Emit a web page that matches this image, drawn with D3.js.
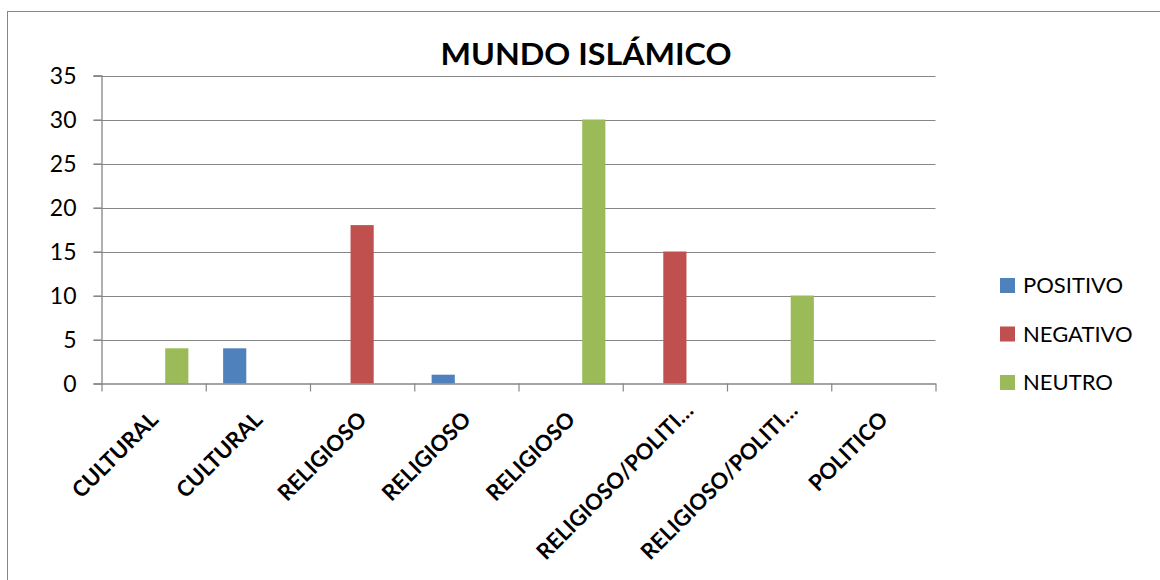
<!DOCTYPE html>
<html>
<head>
<meta charset="utf-8">
<script src="https://cdn.jsdelivr.net/npm/d3@7"></script>
<style>
  html, body { margin: 0; padding: 0; background: #fff; }
  svg { display: block; }
  text { font-family: Lato, "Open Sans", sans-serif; fill: #000; }
</style>
</head>
<body>
<svg id="chart" width="1160" height="580"></svg>
<script>
const title = "MUNDO ISLÁMICO";
const categories = ["CULTURAL", "CULTURAL", "RELIGIOSO", "RELIGIOSO", "RELIGIOSO", "RELIGIOSO/POLITI…", "RELIGIOSO/POLITI…", "POLITICO"];
const seriesNames = ["POSITIVO", "NEGATIVO", "NEUTRO"];
const positivo = [0, 4, 0, 1, 0, 0, 0, 0];
const negativo = [0, 0, 18, 0, 0, 15, 0, 0];
const neutro   = [4, 0, 0, 0, 30, 0, 10, 0];
const yTicks = [0, 5, 10, 15, 20, 25, 30, 35];
const colors = ["#4F81BD", "#C0504D", "#9BBB59"];

(function () {
const seriesValues = [positivo, negativo, neutro];
const svg = d3.select("#chart");
const grid = "#868686";

// outer chart border
svg.append("rect").attr("x", 7.5).attr("y", 11.5).attr("width", 1160).attr("height", 580)
  .attr("fill", "none").attr("stroke", grid).attr("stroke-width", 1);

const pLeft = 101.5, pRight = 935.5, pTop = 75.5, pBottom = 383.5;

const x0 = d3.scaleBand().domain(d3.range(categories.length)).range([pLeft, pRight]).paddingInner(0).paddingOuter(0);
const x1 = d3.scaleBand().domain(d3.range(seriesNames.length)).range([0, x0.bandwidth()]).paddingInner(0).paddingOuter(0.75);
const y = d3.scaleLinear().domain([0, 35]).range([pBottom, pTop]);

// gridlines
svg.append("g").selectAll("line").data(yTicks.filter(d => d > 0)).join("line")
  .attr("x1", pLeft - 8).attr("x2", pRight)
  .attr("y1", d => Math.round(y(d)) + 0.5).attr("y2", d => Math.round(y(d)) + 0.5)
  .attr("stroke", grid).attr("stroke-width", 1.2);

// bars
const barData = [];
categories.forEach((c, i) => seriesValues.forEach((vals, s) => {
  if (vals[i] > 0) barData.push({ i, s, v: vals[i] });
}));
svg.append("g").selectAll("rect").data(barData).join("rect")
  .attr("x", d => x0(d.i) + x1(d.s))
  .attr("width", x1.bandwidth())
  .attr("y", d => y(d.v))
  .attr("height", d => y(0) - y(d.v))
  .attr("fill", d => colors[d.s]);

// y axis
const yAxis = d3.axisLeft(y).tickValues(yTicks).tickSize(8).tickPadding(17).tickFormat(d3.format("d"));
const gy = svg.append("g").attr("transform", `translate(${pLeft},0)`).call(yAxis);
gy.select(".domain").attr("stroke", grid).attr("stroke-width", 1.3);
gy.selectAll(".tick line").attr("stroke", grid).attr("stroke-width", 1.2);
gy.selectAll(".tick text").attr("font-size", 23).attr("font-family", "Lato").attr("fill", "#000").attr("dy", "0.36em");

// x axis (category boundaries as ticks)
const xb = d3.scaleLinear().domain([0, categories.length]).range([pLeft, pRight]);
const xAxis = d3.axisBottom(xb).tickValues(d3.range(categories.length + 1)).tickSize(8).tickFormat("").tickSizeOuter(0);
const gx = svg.append("g").attr("transform", `translate(0,${pBottom})`).call(xAxis);
gx.select(".domain").attr("stroke", grid).attr("stroke-width", 1.3);
gx.selectAll(".tick line").attr("stroke", grid).attr("stroke-width", 1.2);

// category labels, rotated -45
svg.append("g").selectAll("text").data(categories).join("text")
  .attr("transform", (d, i) => {
    const cx = x0(i) + x0.bandwidth() / 2;
    const trunc = d.endsWith("…");
    const ax = cx + (trunc ? 20 : 6);
    const ay = trunc ? 412 : 421;
    return `translate(${ax},${ay}) rotate(-45)`;
  })
  .attr("text-anchor", "end")
  .attr("font-size", 22).attr("font-weight", "bold")
  .text(d => d);

// title
svg.append("text").attr("x", 586).attr("y", 64.5).attr("text-anchor", "middle")
  .attr("font-size", 30).attr("font-weight", "bold")
  .attr("textLength", 291).attr("lengthAdjust", "spacingAndGlyphs")
  .text(title);

// legend
const lg = svg.append("g").selectAll("g").data(seriesNames).join("g")
  .attr("transform", (d, i) => `translate(1000,${285.5 + i * 48.5})`);
lg.append("rect").attr("x", 0).attr("y", -7.5).attr("width", 15).attr("height", 15)
  .attr("fill", (d, i) => colors[i]);
lg.append("text").attr("x", 23).attr("y", 0).attr("dy", "0.36em")
  .attr("font-size", 22).text(d => d);
})();
</script>
</body>
</html>
